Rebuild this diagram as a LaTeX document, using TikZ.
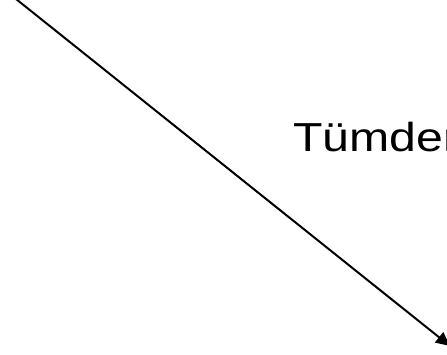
\documentclass[tikz,border=0pt]{standalone}
\usepackage{fontspec}
\setmainfont{Liberation Sans}
\usetikzlibrary{arrows.meta, positioning}

\begin{document}
\begin{tikzpicture}[x=1pt, y=-1pt,
    flow/.style={line width=2pt, -{Triangle[length=14pt, width=13pt]}},
    caption/.style={font=\fontsize{40.5}{44}\selectfont, inner sep=0pt, anchor=base west, xscale=1.19}
]
\useasboundingbox (0,0) rectangle (447,355);
% arrow from the top left corner
\coordinate (start) at (16,-1);
\coordinate (tip) at (450,346);
\draw[flow] (start) -- (tip);

% cut off text on the right
\node[caption] (label) at (293,152) {Tümden};
\end{tikzpicture}
\end{document}
